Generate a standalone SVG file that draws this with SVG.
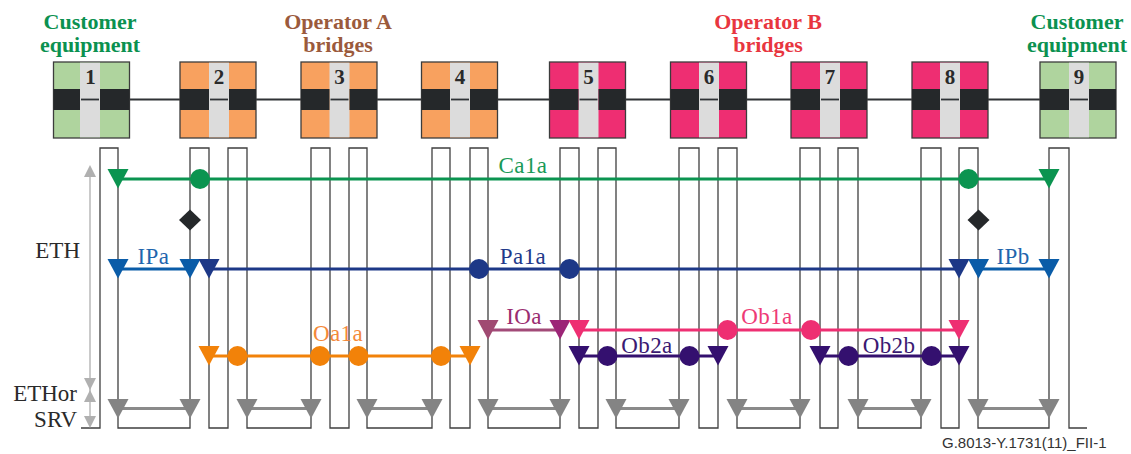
<svg xmlns="http://www.w3.org/2000/svg" xmlns:xlink="http://www.w3.org/1999/xlink" width="1131" height="454" viewBox="0 0 1131 454">
<style>
.hdr{font-family:"Liberation Serif","Times New Roman",serif;font-weight:bold;font-size:22px;text-anchor:middle}
.num{font-family:"Liberation Serif","Times New Roman",serif;font-weight:bold;font-size:21px;text-anchor:middle;fill:#2a2a2a}
.lbl{font-family:"Liberation Serif","Times New Roman",serif;font-size:23px;text-anchor:middle;letter-spacing:0.4px}
.ax{font-family:"Liberation Serif","Times New Roman",serif;font-size:23px;text-anchor:end;fill:#2a2a2a}
.foot{font-family:"Liberation Sans",Arial,sans-serif;font-size:15px;fill:#333}
.frame{fill:none;stroke-width:1.3}
.bdr{stroke:#3c3c3c;stroke-width:1.3}
.green{fill:#afd49e}.orange{fill:#f8a15f}.pink{fill:#ee2e72}
.stripe{fill:#dcdcdc}.bar{fill:#25282a}
.link{stroke:#2f3235;stroke-width:2.2;fill:none}
</style>
<defs>
<path id="tri" d="M-10.5,-10 L10.5,-10 L0,9.5 Z"/>
<path id="atu" d="M-6,6 L6,6 L0,-6 Z"/>
<path id="atd" d="M-6,-6 L6,-6 L0,6 Z"/>
</defs>

<!-- headers -->
<g id="headers">
<text class="hdr" x="90" y="29" fill="#0b9150">Customer</text>
<text class="hdr" x="90" y="52" fill="#0b9150">equipment</text>
<text class="hdr" x="338" y="29" fill="#9b5a3c">Operator A</text>
<text class="hdr" x="338" y="52" fill="#9b5a3c">bridges</text>
<text class="hdr" x="768" y="29" fill="#e8363f">Operator B</text>
<text class="hdr" x="768" y="52" fill="#e8363f">bridges</text>
<text class="hdr" x="1077" y="29" fill="#0b9150">Customer</text>
<text class="hdr" x="1077" y="52" fill="#0b9150">equipment</text>
</g>

<!-- connectors -->
<g id="connectors">
<line class="link" x1="129" y1="99.5" x2="1040" y2="99.5"/>
</g>

<!-- nodes -->
<g id="node1"><rect class="green bdr" x="53.5" y="62" width="76" height="76"/><rect class="stripe" x="80" y="62.7" width="20" height="74.6"/><rect class="bar" x="53.5" y="89" width="26.5" height="21"/><rect class="bar" x="100" y="89" width="29.5" height="21"/><line x1="81" y1="99.5" x2="99" y2="99.5" stroke="#2f3235" stroke-width="1.8"/><text class="num" x="90.5" y="84">1</text></g>
<g id="node2"><rect class="orange bdr" x="180" y="62" width="76" height="76"/><rect class="stripe" x="209" y="62.7" width="20" height="74.6"/><rect class="bar" x="180" y="89" width="29" height="21"/><rect class="bar" x="229" y="89" width="27" height="21"/><line x1="210" y1="99.5" x2="228" y2="99.5" stroke="#2f3235" stroke-width="1.8"/><text class="num" x="219" y="84">2</text></g>
<g id="node3"><rect class="orange bdr" x="301" y="62" width="76" height="76"/><rect class="stripe" x="329.5" y="62.7" width="20" height="74.6"/><rect class="bar" x="301" y="89" width="28.5" height="21"/><rect class="bar" x="349.5" y="89" width="27.5" height="21"/><line x1="330.5" y1="99.5" x2="348.5" y2="99.5" stroke="#2f3235" stroke-width="1.8"/><text class="num" x="339.5" y="84">3</text></g>
<g id="node4"><rect class="orange bdr" x="421.5" y="62" width="76" height="76"/><rect class="stripe" x="450" y="62.7" width="20" height="74.6"/><rect class="bar" x="421.5" y="89" width="28.5" height="21"/><rect class="bar" x="470" y="89" width="27.5" height="21"/><line x1="451" y1="99.5" x2="469" y2="99.5" stroke="#2f3235" stroke-width="1.8"/><text class="num" x="460" y="84">4</text></g>
<g id="node5"><rect class="pink bdr" x="549.5" y="62" width="76" height="76"/><rect class="stripe" x="578.5" y="62.7" width="20" height="74.6"/><rect class="bar" x="549.5" y="89" width="29" height="21"/><rect class="bar" x="598.5" y="89" width="27" height="21"/><line x1="579.5" y1="99.5" x2="597.5" y2="99.5" stroke="#2f3235" stroke-width="1.8"/><text class="num" x="588.5" y="84">5</text></g>
<g id="node6"><rect class="pink bdr" x="670.5" y="62" width="76" height="76"/><rect class="stripe" x="699" y="62.7" width="20" height="74.6"/><rect class="bar" x="670.5" y="89" width="28.5" height="21"/><rect class="bar" x="719" y="89" width="27.5" height="21"/><line x1="700" y1="99.5" x2="718" y2="99.5" stroke="#2f3235" stroke-width="1.8"/><text class="num" x="709" y="84">6</text></g>
<g id="node7"><rect class="pink bdr" x="791" y="62" width="76" height="76"/><rect class="stripe" x="820" y="62.7" width="20" height="74.6"/><rect class="bar" x="791" y="89" width="29" height="21"/><rect class="bar" x="840" y="89" width="27" height="21"/><line x1="821" y1="99.5" x2="839" y2="99.5" stroke="#2f3235" stroke-width="1.8"/><text class="num" x="830" y="84">7</text></g>
<g id="node8"><rect class="pink bdr" x="912" y="62" width="76" height="76"/><rect class="stripe" x="940" y="62.7" width="20" height="74.6"/><rect class="bar" x="912" y="89" width="28" height="21"/><rect class="bar" x="960" y="89" width="28" height="21"/><line x1="941" y1="99.5" x2="959" y2="99.5" stroke="#2f3235" stroke-width="1.8"/><text class="num" x="950" y="84">8</text></g>
<g id="node9"><rect class="green bdr" x="1040" y="62" width="76" height="76"/><rect class="stripe" x="1069" y="62.7" width="20" height="74.6"/><rect class="bar" x="1040" y="89" width="29" height="21"/><rect class="bar" x="1089" y="89" width="27" height="21"/><line x1="1070" y1="99.5" x2="1088" y2="99.5" stroke="#2f3235" stroke-width="1.8"/><text class="num" x="1079" y="84">9</text></g>

<!-- layer frame (serpentine) -->
<g id="frame">
<path class="frame" stroke="#3f3f3f" d="M81,428 H100 V148 H118 V428 H190 V148 H209 V428 H228 V148 H247 V428 H311 V148 H330 V428 H349 V148 H367 V428 H432 V148 H450 V428 H470 V148 H488 V428 H560 V148 H579 V428 H598 V148 H616 V428 H679 V148 H699 V428 H718 V148 H737 V428 H800 V148 H820 V428 H838 V148 H858 V428 H921 V148 H941 V428 H959 V148 H978 V428 H1049 V148 H1069 V428 H1087"/>
</g>

<!-- axis -->
<g id="axis" fill="#b0b0b0">
<line x1="90" y1="172" x2="90" y2="424" stroke="#b8b8b8" stroke-width="1.5"/>
<use xlink:href="#atu" x="90" y="171"/>
<use xlink:href="#atd" x="90" y="384"/>
<use xlink:href="#atu" x="90" y="396"/>
<use xlink:href="#atd" x="90" y="422"/>
<text class="ax" x="80" y="258">ETH</text>
<text class="ax" x="77" y="401">ETHor</text>
<text class="ax" x="77" y="427">SRV</text>
</g>

<!-- ETH layer connections -->
<g id="Ca1a" fill="#0b9450">
<line x1="118" y1="179" x2="1049" y2="179" stroke="#0b9450" stroke-width="3"/>
<use xlink:href="#tri" x="118" y="179"/><use xlink:href="#tri" x="1049" y="179"/>
<circle cx="200" cy="179" r="10"/><circle cx="968.5" cy="179" r="10"/>
<text class="lbl" x="523" y="173" fill="#1a9a58">Ca1a</text>
</g>
<g id="diamonds" fill="#25282a">
<path d="M190,209.5 L201,220 L190,230.5 L179,220 Z"/>
<path d="M978.5,209.5 L989.5,220 L978.5,230.5 L967.5,220 Z"/>
</g>
<g id="IPa" fill="#0a5ca8">
<line x1="118" y1="269" x2="190" y2="269" stroke="#0a5ca8" stroke-width="3"/>
<use xlink:href="#tri" x="118" y="269"/><use xlink:href="#tri" x="190" y="269"/>
<text class="lbl" x="153.5" y="263.5" fill="#1f66ae">IPa</text>
</g>
<g id="IPb" fill="#0a5ca8">
<line x1="978.5" y1="269" x2="1049" y2="269" stroke="#0a5ca8" stroke-width="3"/>
<use xlink:href="#tri" x="978.5" y="269"/><use xlink:href="#tri" x="1049" y="269"/>
<text class="lbl" x="1013" y="263.5" fill="#1f66ae">IPb</text>
</g>
<g id="Pa1a" fill="#1d3887">
<line x1="209" y1="269" x2="959" y2="269" stroke="#1d3887" stroke-width="3"/>
<use xlink:href="#tri" x="209" y="269"/><use xlink:href="#tri" x="959" y="269"/>
<circle cx="479" cy="269" r="10"/><circle cx="569.5" cy="269" r="10"/>
<text class="lbl" x="523" y="263.5" fill="#22398a">Pa1a</text>
</g>
<g id="IOa">
<line x1="488" y1="330" x2="560" y2="330" stroke="#a24a78" stroke-width="3"/>
<use xlink:href="#tri" x="488" y="330" fill="#a04a72"/><use xlink:href="#tri" x="560" y="330" fill="#9c2577"/>
<text class="lbl" x="524" y="323.5" fill="#9a2c70">IOa</text>
</g>
<g id="Ob1a" fill="#ee2f72">
<line x1="579" y1="330" x2="959" y2="330" stroke="#ee2f72" stroke-width="3"/>
<use xlink:href="#tri" x="579" y="330"/><use xlink:href="#tri" x="959" y="330"/>
<circle cx="727.5" cy="330" r="10"/><circle cx="811" cy="330" r="10"/>
<text class="lbl" x="767" y="323.5" fill="#ee3a76">Ob1a</text>
</g>
<g id="Oa1a" fill="#f28209">
<line x1="209" y1="356" x2="470" y2="356" stroke="#f28209" stroke-width="3"/>
<use xlink:href="#tri" x="209" y="356"/><use xlink:href="#tri" x="470" y="356"/>
<circle cx="237.5" cy="356" r="10"/><circle cx="320" cy="356" r="10"/><circle cx="358.5" cy="356" r="10"/><circle cx="441" cy="356" r="10"/>
<text class="lbl" x="338" y="340.5" fill="#f4893a">Oa1a</text>
</g>
<g id="Ob2a" fill="#34106f">
<line x1="579" y1="356" x2="718" y2="356" stroke="#34106f" stroke-width="3"/>
<use xlink:href="#tri" x="579" y="356"/><use xlink:href="#tri" x="718" y="356"/>
<circle cx="607.5" cy="356" r="10"/><circle cx="689.5" cy="356" r="10"/>
<text class="lbl" x="647" y="352.5" fill="#3b1a72">Ob2a</text>
</g>
<g id="Ob2b" fill="#34106f">
<line x1="820" y1="356" x2="959" y2="356" stroke="#34106f" stroke-width="3"/>
<use xlink:href="#tri" x="820" y="356"/><use xlink:href="#tri" x="959" y="356"/>
<circle cx="848.5" cy="356" r="10"/><circle cx="931.5" cy="356" r="10"/>
<text class="lbl" x="889" y="352.5" fill="#3b1a72">Ob2b</text>
</g>

<!-- SRV links -->
<g id="SRV" fill="#848484" stroke="none">
<g stroke="#8a8a8a" stroke-width="3">
<line x1="118" y1="408.5" x2="190" y2="408.5"/>
<line x1="247" y1="408.5" x2="311" y2="408.5"/>
<line x1="367" y1="408.5" x2="432" y2="408.5"/>
<line x1="488" y1="408.5" x2="560" y2="408.5"/>
<line x1="616" y1="408.5" x2="679" y2="408.5"/>
<line x1="737" y1="408.5" x2="800" y2="408.5"/>
<line x1="858" y1="408.5" x2="921" y2="408.5"/>
<line x1="978" y1="408.5" x2="1049" y2="408.5"/>
</g>
<use xlink:href="#tri" x="118" y="409"/><use xlink:href="#tri" x="190" y="409"/>
<use xlink:href="#tri" x="247" y="409"/><use xlink:href="#tri" x="311" y="409"/>
<use xlink:href="#tri" x="367" y="409"/><use xlink:href="#tri" x="432" y="409"/>
<use xlink:href="#tri" x="488" y="409"/><use xlink:href="#tri" x="560" y="409"/>
<use xlink:href="#tri" x="616" y="409"/><use xlink:href="#tri" x="679" y="409"/>
<use xlink:href="#tri" x="737" y="409"/><use xlink:href="#tri" x="800" y="409"/>
<use xlink:href="#tri" x="858" y="409"/><use xlink:href="#tri" x="921" y="409"/>
<use xlink:href="#tri" x="978" y="409"/><use xlink:href="#tri" x="1049" y="409"/>
</g>

<text class="foot" x="942" y="448">G.8013-Y.1731(11)_FII-1</text>
</svg>
